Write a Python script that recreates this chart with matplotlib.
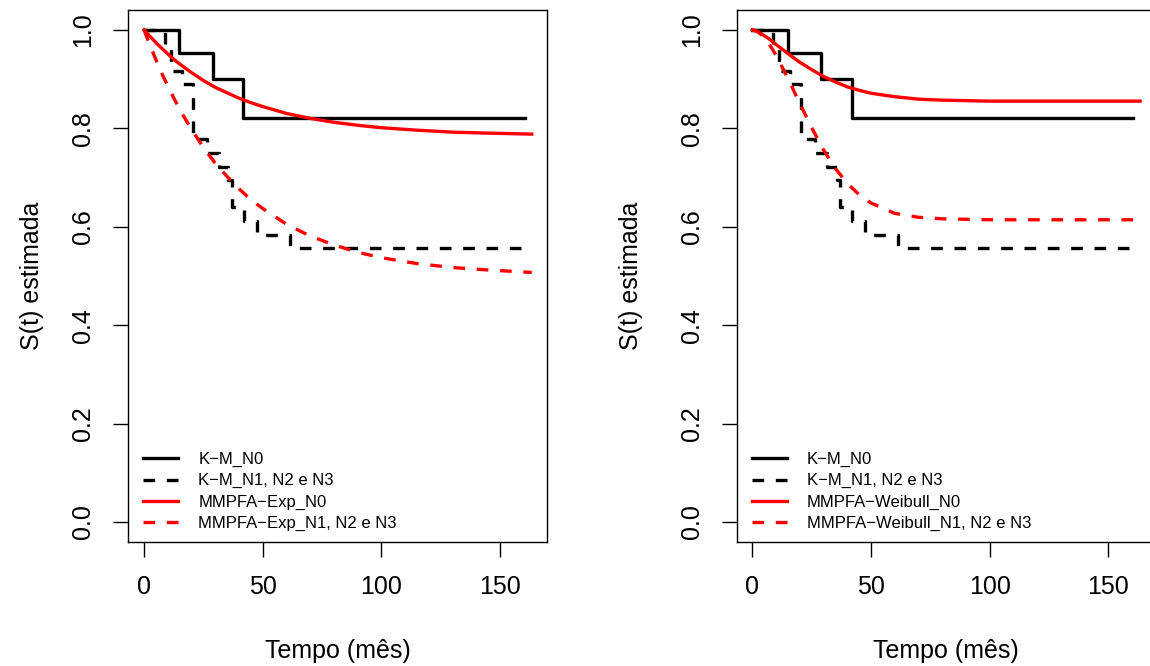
import numpy as np
import matplotlib.pyplot as plt

plt.rcParams['font.family'] = ['Liberation Sans', 'DejaVu Sans']

# --- Kaplan-Meier (same in both panels) ---
km_n0_t = [0, 14.9, 29.0, 41.8, 160.6]
km_n0_s = [1.0, 0.952, 0.899, 0.821, 0.821]

km_n1_t = [0, 8.8, 11.3, 15.9, 20.5, 26.6, 31.5, 35.5, 37.0, 42.0, 47.5, 61.5, 160.6]
km_n1_s = [1.0, 0.972, 0.917, 0.889, 0.778, 0.750, 0.722, 0.694, 0.639, 0.611, 0.583, 0.556, 0.556]

# --- fitted curves ---
t_fit = [0, 2, 4, 6, 8, 10, 13, 16, 20, 25, 30, 35, 40, 45, 50, 60, 70, 80, 90, 100, 115, 130, 145, 163.4]

exp_n0 = [1.0, 0.989, 0.979, 0.969, 0.960, 0.951, 0.938, 0.927, 0.913, 0.897, 0.883, 0.872,
          0.861, 0.852, 0.844, 0.830, 0.820, 0.812, 0.806, 0.801, 0.796, 0.792, 0.790, 0.788]
exp_n1 = [1.0, 0.975, 0.951, 0.928, 0.906, 0.886, 0.857, 0.830, 0.798, 0.761, 0.729, 0.702,
          0.677, 0.655, 0.637, 0.605, 0.581, 0.563, 0.548, 0.537, 0.525, 0.517, 0.512, 0.507]

weib_n0 = [1.0, 0.997, 0.991, 0.985, 0.978, 0.970, 0.959, 0.948, 0.934, 0.919, 0.905, 0.894,
           0.884, 0.877, 0.871, 0.864, 0.859, 0.857, 0.856, 0.855, 0.855, 0.855, 0.855, 0.855]
weib_n1 = [1.0, 0.997, 0.989, 0.978, 0.964, 0.948, 0.920, 0.891, 0.850, 0.801, 0.756, 0.718,
           0.688, 0.665, 0.648, 0.627, 0.619, 0.616, 0.615, 0.614, 0.614, 0.614, 0.614, 0.614]

yticks = [0.0, 0.2, 0.4, 0.6, 0.8, 1.0]
ytick_labels = ['0.0', '0.2', '0.4', '0.6', '0.8', '1.0']
xticks = [0, 50, 100, 150]

M = '\u2212'
labels_left = [f'K{M}M_N0', f'K{M}M_N1, N2 e N3', f'MMPFA{M}Exp_N0', f'MMPFA{M}Exp_N1, N2 e N3']
labels_right = [f'K{M}M_N0', f'K{M}M_N1, N2 e N3', f'MMPFA{M}Weibull_N0', f'MMPFA{M}Weibull_N1, N2 e N3']

LW = 2.4
DASH = (0, (3.5, 3.5))
FS = 18


def draw_panel(ax, red_n0, red_n1, labels, ylab_x):
    ax.step(km_n0_t, km_n0_s, where='post', color='black', lw=LW, label=labels[0])
    ax.step(km_n1_t, km_n1_s, where='post', color='black', lw=LW, ls=DASH, label=labels[1])
    ax.plot(t_fit, red_n0, color='red', lw=LW, label=labels[2])
    ax.plot(t_fit, red_n1, color='red', lw=LW, ls=DASH, label=labels[3])

    ax.set_xlim(-6.6, 169.7)
    ax.set_ylim(-0.04, 1.04)
    ax.set_xticks(xticks)
    ax.set_yticks(yticks)
    ax.set_yticklabels(ytick_labels)
    ax.tick_params(length=10.8, width=1, labelsize=FS, pad=13, direction='out')
    for lab in ax.get_yticklabels():
        lab.set_rotation(90)
        lab.set_va('center')
    for sp in ax.spines.values():
        sp.set_linewidth(1.0)

    ax.set_xlabel('Tempo (mês)', fontsize=FS)
    ax.set_ylabel('S(t) estimada', fontsize=FS)
    ax.xaxis.set_label_coords(0.5, -0.2056)
    ax.xaxis.label.set_va('center')
    ax.yaxis.set_label_coords(ylab_x, 0.5)
    ax.yaxis.label.set_va('center')

    ax.legend(loc='lower left', bbox_to_anchor=(0.036, 0.02), frameon=False, fontsize=12,
              handlelength=2.1, handletextpad=1.2, labelspacing=0.37,
              borderpad=0, borderaxespad=0)


fig = plt.figure(figsize=(11.5, 6.66), dpi=100)
ax1 = fig.add_axes([0.1116, 0.1866, 0.3638, 0.7983])
ax2 = fig.add_axes([0.6406, 0.1866, 0.3638, 0.7983])

draw_panel(ax1, exp_n0, exp_n1, labels_left, -0.2314)
draw_panel(ax2, weib_n0, weib_n1, labels_right, -0.2526)

fig.savefig('out.png', dpi=100)
